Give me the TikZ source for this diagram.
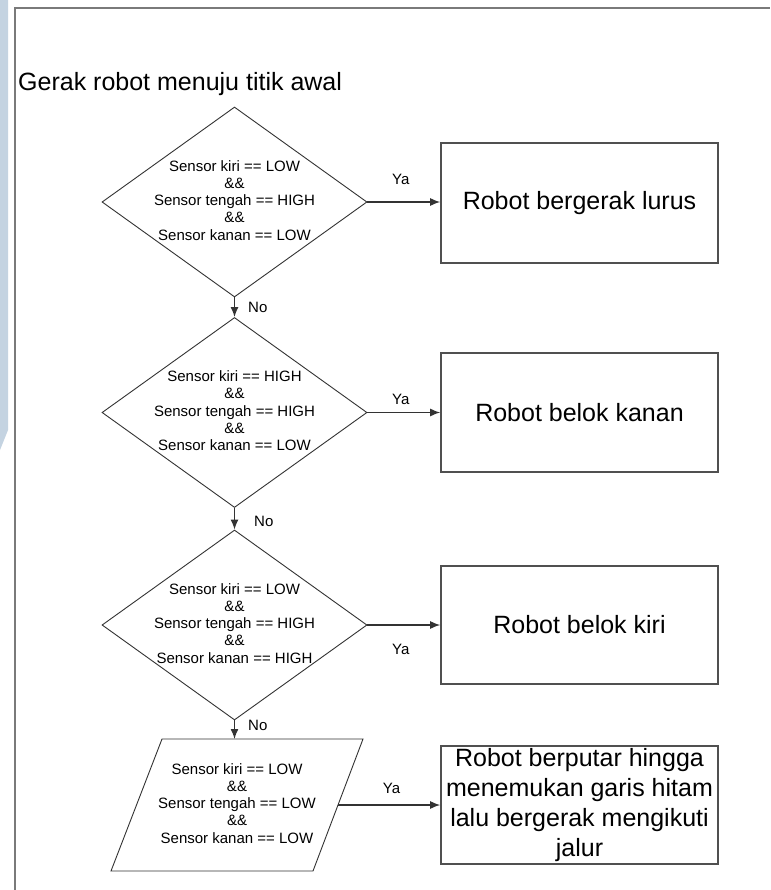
\documentclass[tikz,border=0pt]{standalone}
\usepackage{fontspec}
\setmainfont{Liberation Sans}
\usetikzlibrary{shapes.geometric,arrows.meta}
\definecolor{stripblue}{HTML}{C4D3E1}
\definecolor{framegray}{HTML}{7A7A7A}
\definecolor{linegray}{HTML}{333333}
\definecolor{boxgray}{HTML}{505050}
\newcommand\condlines[3]{\smash{\makebox[0pt]{\raisebox{-0.25em}{\begin{tabular}[c]{@{}c@{}}Sensor kiri == #1\\\&\&\\Sensor tengah == #2\\\&\&\\Sensor kanan == #3\end{tabular}}}}}
\begin{document}
\begin{tikzpicture}[x=1pt,y=-1pt,
  every node/.style={font=\fontsize{15}{17.3}\selectfont, text=black},
  cond/.style={draw=linegray, line width=0.9pt, shape=diamond, minimum width=265pt, minimum height=190pt, inner sep=0pt},
  actbox/.style={draw=boxgray, line width=1.6pt, minimum width=277pt, inner sep=0pt, font=\fontsize{25}{30}\selectfont, align=center},
  arr/.style={draw=linegray, line width=1.4pt, -{Latex[length=10pt,width=8pt]}},
  lbl/.style={inner sep=0pt, font=\fontsize{15}{18}\selectfont},
]
\useasboundingbox (0,0) rectangle (770,890);
\fill[white] (0,0) rectangle (770,890);
\fill[stripblue] (0,0) -- (8,0) -- (8,430) -- (0,450) -- cycle;
\draw[framegray, line width=2pt] (15,890) -- (15,8) -- (770,8);

\node[anchor=base west, inner sep=0pt, font=\fontsize{25}{30}\selectfont] (title) at (18,91) {Gerak robot menuju titik awal};

\node[cond] (d1) at (234.5,202) {\condlines{LOW}{HIGH}{LOW}};
\node[cond] (d2) at (234.5,412.5) {\condlines{HIGH}{HIGH}{LOW}};
\node[cond] (d3) at (234.5,625) {\condlines{LOW}{HIGH}{HIGH}};

\draw[draw=linegray, line width=0.9pt] (162,739) -- (363,739) -- (313,871) -- (111,871) -- cycle;
\coordinate (ptop) at (234.5,739);
\coordinate (pright) at (338,805);
\node (ptext) at (237,805) {\condlines{LOW}{LOW}{LOW}};

\node[actbox, minimum height=120pt] (b1) at (579.5,203) {Robot bergerak lurus};
\node[actbox, minimum height=119pt] (b2) at (579.5,412.5) {Robot belok kanan};
\node[actbox, minimum height=118pt] (b3) at (579.5,625) {Robot belok kiri};
\node[actbox, minimum height=118pt] (b4) at (579.5,805) {Robot berputar hingga\\menemukan garis hitam\\lalu bergerak mengikuti\\jalur};

\draw[arr] (d1.east) -- node[lbl, xshift=-3pt, yshift=23pt] {Ya} (d1.east -| b1.west);
\draw[arr] (d2.east) -- node[lbl, xshift=-3pt, yshift=13pt] {Ya} (d2.east -| b2.west);
\draw[arr] (d3.east) -- node[lbl, xshift=-3pt, yshift=-24pt] {Ya} (d3.east -| b3.west);
\draw[arr] (pright) -- node[lbl, xshift=2.5pt, yshift=17pt] {Ya} (pright -| b4.west);

\draw[arr] (d1.south) -- node[lbl, anchor=west, xshift=13pt] {No} (d2.north);
\draw[arr] (d2.south) -- node[lbl, anchor=west, xshift=19pt, yshift=-3pt] {No} (d3.north);
\draw[arr] (d3.south) -- node[lbl, anchor=west, xshift=13pt, yshift=4.5pt] {No} (ptop);
\end{tikzpicture}
\end{document}
